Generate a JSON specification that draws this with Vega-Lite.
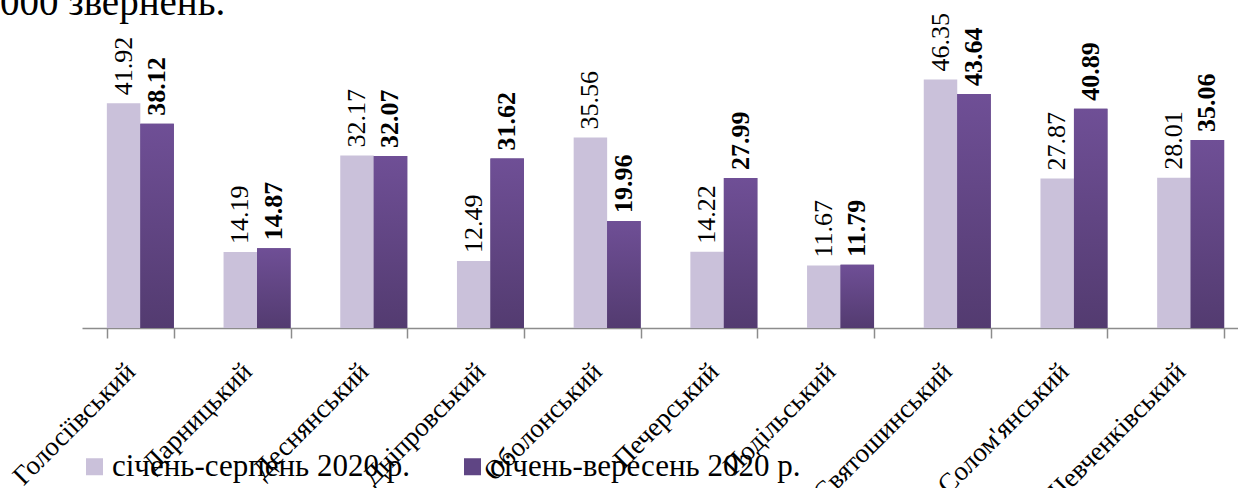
{
  "$schema": "https://vega.github.io/schema/vega-lite/v6.json",
  "autosize": {"type": "none"},
  "padding": {"left": 82, "top": 60, "right": 0, "bottom": 160},
  "width": 1156,
  "height": 268,
  "background": "white",
  "config": {"view": {"stroke": null}, "font": "Times New Roman"},
  "title": {"text": "000 звернень.", "anchor": "start", "frame": "group", "dx": -82, "fontSize": 39, "font": "Times New Roman", "fontWeight": "normal", "color": "#000000", "baseline": "alphabetic", "offset": -41},
  "data": {"values": [
    {"district": "Голосіївський", "series": "січень-серпень 2020 р.", "value": 41.92},
    {"district": "Голосіївський", "series": "січень-вересень 2020 р.", "value": 38.12},
    {"district": "Дарницький", "series": "січень-серпень 2020 р.", "value": 14.19},
    {"district": "Дарницький", "series": "січень-вересень 2020 р.", "value": 14.87},
    {"district": "Деснянський", "series": "січень-серпень 2020 р.", "value": 32.17},
    {"district": "Деснянський", "series": "січень-вересень 2020 р.", "value": 32.07},
    {"district": "Дніпровський", "series": "січень-серпень 2020 р.", "value": 12.49},
    {"district": "Дніпровський", "series": "січень-вересень 2020 р.", "value": 31.62},
    {"district": "Оболонський", "series": "січень-серпень 2020 р.", "value": 35.56},
    {"district": "Оболонський", "series": "січень-вересень 2020 р.", "value": 19.96},
    {"district": "Печерський", "series": "січень-серпень 2020 р.", "value": 14.22},
    {"district": "Печерський", "series": "січень-вересень 2020 р.", "value": 27.99},
    {"district": "Подільський", "series": "січень-серпень 2020 р.", "value": 11.67},
    {"district": "Подільський", "series": "січень-вересень 2020 р.", "value": 11.79},
    {"district": "Святошинський", "series": "січень-серпень 2020 р.", "value": 46.35},
    {"district": "Святошинський", "series": "січень-вересень 2020 р.", "value": 43.64},
    {"district": "Солом'янський", "series": "січень-серпень 2020 р.", "value": 27.87},
    {"district": "Солом'янський", "series": "січень-вересень 2020 р.", "value": 40.89},
    {"district": "Шевченківський", "series": "січень-серпень 2020 р.", "value": 28.01},
    {"district": "Шевченківський", "series": "січень-вересень 2020 р.", "value": 35.06}
  ]},
  "encoding": {
    "x": {
      "field": "district", "type": "nominal", "sort": null,
      "scale": {"range": [0, 1167], "paddingInner": 0.426, "paddingOuter": 0.213},
      "axis": {
        "title": null, "labelAngle": -45, "labelAlign": "right", "labelBaseline": "top", "labelFontSize": 27, "labelFont": "Times New Roman", "labelColor": "#000000",
        "domainColor": "#8c8c8c", "domainWidth": 1.5, "tickColor": "#8c8c8c", "tickWidth": 1.5, "tickSize": 10, "tickBand": "extent",
        "labelPadding": 20, "labelOffset": -19, "labelOverlap": false, "labelBound": false, "labelLimit": 0
      }
    },
    "xOffset": {"field": "series", "type": "nominal", "scale": {"domain": ["січень-серпень 2020 р.", "січень-вересень 2020 р."], "paddingInner": 0, "paddingOuter": 0}},
    "y": {"field": "value", "type": "quantitative", "scale": {"domain": [0, 50], "nice": false}, "axis": null}
  },
  "layer": [
    {
      "mark": {"type": "bar"},
      "encoding": {
        "color": {
          "field": "series", "type": "nominal",
          "scale": {"domain": ["січень-серпень 2020 р.", "січень-вересень 2020 р."], "range": ["#cac1da", "#5f4584"]},
          "legend": {
            "title": null, "orient": "none", "direction": "horizontal", "legendX": -3, "legendY": 391,
            "symbolType": "square", "symbolSize": 289, "symbolStrokeWidth": 0, "labelFontSize": 31, "labelFont": "Times New Roman",
            "labelColor": "#000000", "labelLimit": 0, "columnPadding": 47, "labelOffset": 2
          }
        }
      }
    },
    {
      "transform": [{"filter": "datum.series === 'січень-вересень 2020 р.'"}],
      "mark": {"type": "bar", "color": {"gradient": "linear", "x1": 0, "y1": 0, "x2": 0, "y2": 1, "stops": [{"offset": 0, "color": "#6f4f96"}, {"offset": 1, "color": "#533b70"}]}}
    },
    {
      "transform": [{"filter": "datum.series === 'січень-серпень 2020 р.'"}],
      "mark": {"type": "text", "angle": 270, "align": "left", "baseline": "middle", "dx": 8, "fontSize": 26, "font": "Times New Roman", "color": "#000000"},
      "encoding": {"text": {"field": "value", "type": "quantitative", "format": ".2f"}}
    },
    {
      "transform": [{"filter": "datum.series === 'січень-вересень 2020 р.'"}],
      "mark": {"type": "text", "angle": 270, "align": "left", "baseline": "middle", "dx": 8, "fontSize": 26, "font": "Times New Roman", "fontWeight": "bold", "color": "#000000"},
      "encoding": {"text": {"field": "value", "type": "quantitative", "format": ".2f"}}
    }
  ]
}
